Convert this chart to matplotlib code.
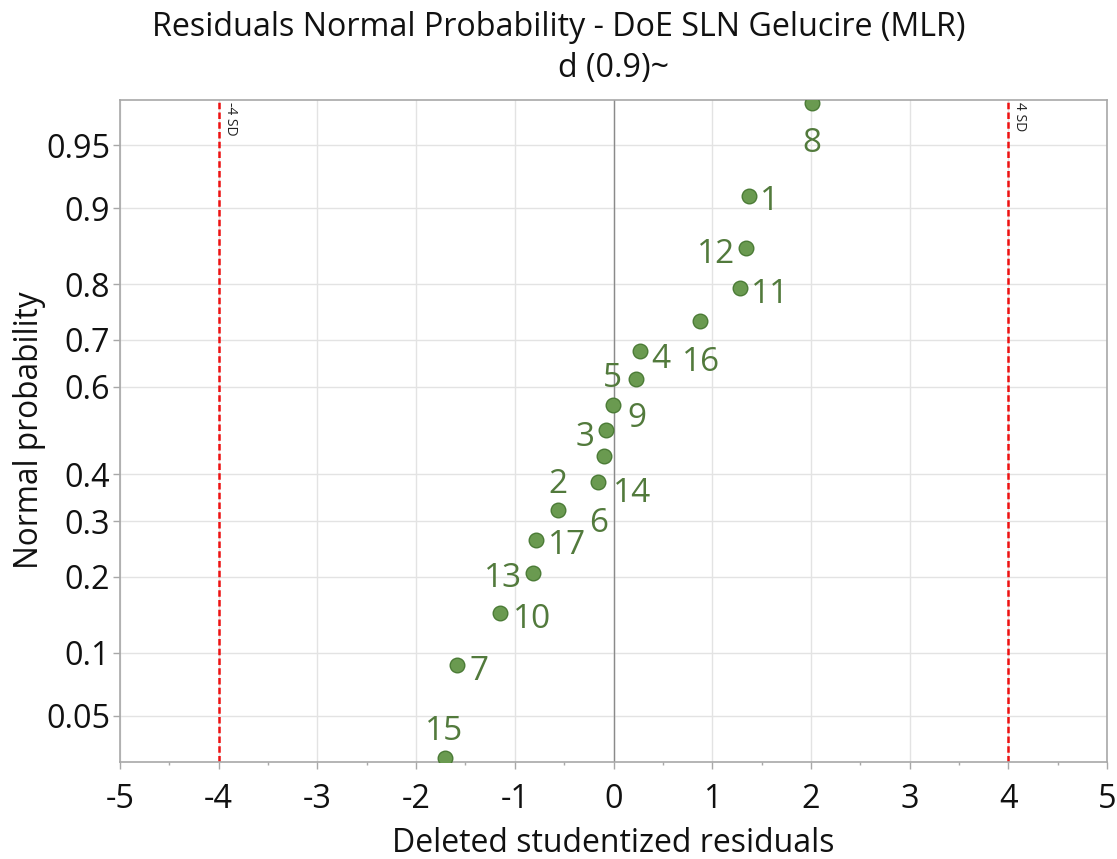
import matplotlib
matplotlib.use('Agg')
import matplotlib.pyplot as plt
from matplotlib.ticker import MultipleLocator
from statistics import NormalDist

# ---- data ----
residuals = [-1.712, -1.586, -1.151, -0.816, -0.789, -0.559, -0.157, -0.096, -0.079,
             -0.008, 0.228, 0.269, 0.877, 1.280, 1.344, 1.368, 2.007]
run_labels = ['15', '7', '10', '13', '17', '2', '6', '14', '3', '9', '5', '4',
              '16', '11', '12', '1', '8']
prob_ticks = [0.05, 0.1, 0.2, 0.3, 0.4, 0.6, 0.7, 0.8, 0.9, 0.95]
x_ticks = [-5, -4, -3, -2, -1, 0, 1, 2, 3, 4, 5]
sd_limits = [-4, 4]
sd_texts = ['-4 SD', '4 SD']

# label offsets in pixels (dx right, dy down)
label_offsets = [(0, -31), (22, 2), (32, 3), (-30, 2), (31, 2), (0, -29), (1, 37),
                 (28, 33), (-21, 3), (24, 10), (-24, -4), (21, 4), (1, 37), (30, 2),
                 (-30, 2), (21, 2), (0, 37)]

FONT = 'Open Sans'
plt.rcParams['font.family'] = [FONT, 'DejaVu Sans']

nd = NormalDist()
n = len(residuals)
zvals = [nd.inv_cdf((i + 0.5) / n) for i in range(n)]
ztick = [nd.inv_cdf(p) for p in prob_ticks]

fig = plt.figure(figsize=(11.17, 8.59), dpi=100)
ax = fig.add_axes([120 / 1117, (859 - 761.5) / 859, (1107 - 120) / 1117, (761.5 - 99.5) / 859])

green_fill = '#6a9a50'
green_edge = '#4b7b36'
label_col = '#527a3c'
grid_col = '#e3e3e3'
spine_col = '#a8a8a8'

ax.set_xlim(-5, 5)
zpad = 0.018
ax.set_ylim(zvals[0] - zpad, zvals[-1] + zpad)

ax.set_xticks(x_ticks)
ax.set_xticklabels([str(v) for v in x_ticks])
ax.xaxis.set_minor_locator(MultipleLocator(0.5))
ax.set_yticks(ztick)
ax.set_yticklabels([f'{p:g}' for p in prob_ticks])

ax.grid(True, which='major', color=grid_col, linewidth=1.0)
ax.set_axisbelow(True)
ax.axvline(0, color='#8a8a8a', linewidth=1.0, zorder=1)

for s in ax.spines.values():
    s.set_color(spine_col)
    s.set_linewidth(1.2)

ax.tick_params(axis='both', which='major', labelsize=23.3, color=spine_col,
               length=4.7, width=1, labelcolor='#111111')
ax.tick_params(axis='x', which='major', pad=11)
ax.tick_params(axis='y', which='major', pad=2.5)
ax.tick_params(axis='x', which='minor', length=2.5, width=1, color=spine_col)

for xv, txt in zip(sd_limits, sd_texts):
    ax.axvline(xv, color='#ee1111', linewidth=1.8, linestyle=(0, (2.6, 1.3)), zorder=2)
    ax.annotate(txt, xy=(xv, 1), xycoords=('data', 'axes fraction'),
                xytext=(3, -1.5), textcoords='offset points', rotation=-90,
                ha='left', va='top', fontsize=10, color='#222222')

ax.plot(residuals, zvals, linestyle='none', marker='o', markersize=10.5,
        markerfacecolor=green_fill, markeredgecolor=green_edge, markeredgewidth=1.0,
        zorder=4)

for xv, zv, lab, (dx, dy) in zip(residuals, zvals, run_labels, label_offsets):
    ax.annotate(lab, xy=(xv, zv), xytext=(dx * 0.72, -dy * 0.72),
                textcoords='offset points', ha='center', va='center_baseline',
                fontsize=24, color=label_col, zorder=5)

ax.set_xlabel('Deleted studentized residuals', fontsize=23, color='#111111')
ax.set_ylabel('Normal probability', fontsize=22.7, color='#111111')
ax.xaxis.set_label_coords(0.5, -(827 - 761.5) / 662, transform=ax.transAxes)
ax.yaxis.set_label_coords(-(120 - 46) / 987, 0.5, transform=ax.transAxes)

fig.text(0.5, 1 - 27 / 859, 'Residuals Normal Probability - DoE SLN Gelucire (MLR)',
         ha='center', va='center', fontsize=23.2, color='#111111')
fig.text(ax.get_position().x0 + ax.get_position().width / 2, 1 - 68 / 859, 'd (0.9)~',
         ha='center', va='center', fontsize=23.2, color='#111111')

fig.savefig('out.png', dpi=100)
